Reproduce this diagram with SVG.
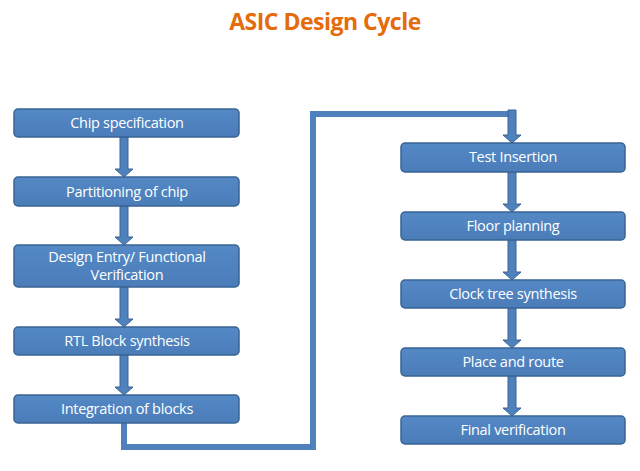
<svg xmlns="http://www.w3.org/2000/svg" width="640" height="471" viewBox="0 0 640 471">
<defs>
<linearGradient id="g" x1="0" y1="0" x2="0" y2="1">
<stop offset="0" stop-color="#5489C6"/>
<stop offset="1" stop-color="#4A7CB8"/>
</linearGradient>
<style>
.box{fill:url(#g);stroke:#3A6394;stroke-width:1.5}
.t{fill:#fff;font-family:"Open Sans","Liberation Sans",sans-serif;font-size:14.5px;text-anchor:middle;letter-spacing:-0.3px}
.ar{fill:#4F81BD;stroke:#3A6394;stroke-width:1}
.ln{fill:none;stroke:#4F81BD;stroke-width:6}
</style>
</defs>
<rect width="640" height="471" fill="#fff"/>
<text x="325" y="30" fill="#E46C0A" font-family="'Open Sans','Liberation Sans',sans-serif" font-weight="bold" font-size="23" text-anchor="middle" letter-spacing="-0.5">ASIC Design Cycle</text>
<g id="connectors">
<polygon class="ar" points="120,137 128,137 128,169 133,169 124,177 115,169 120,169"/>
<polygon class="ar" points="120,206 128,206 128,237 133,237 124,245 115,237 120,237"/>
<polygon class="ar" points="120,287 128,287 128,319 133,319 124,327 115,319 120,319"/>
<polygon class="ar" points="120,355 128,355 128,387 133,387 124,395 115,387 120,387"/>
<polyline class="ln" points="124,423 124,447 313,447 313,114 509,114"/>
<polygon class="ar" points="508,110 516,110 516,135 521,135 512,143 503,135 508,135"/>
<polygon class="ar" points="508,172 516,172 516,204 521,204 512,212 503,204 508,204"/>
<polygon class="ar" points="508,240 516,240 516,272 521,272 512,280 503,272 508,272"/>
<polygon class="ar" points="508,308 516,308 516,340 521,340 512,348 503,340 508,340"/>
<polygon class="ar" points="508,376 516,376 516,408 521,408 512,416 503,408 508,408"/>
</g>
<g id="n1"><rect class="box" x="14" y="109" width="225" height="28" rx="4"/><text class="t" x="127" y="128">Chip specification</text></g>
<g id="n2"><rect class="box" x="14" y="177" width="225" height="29" rx="4"/><text class="t" x="127" y="197">Partitioning of chip</text></g>
<g id="n3"><rect class="box" x="14" y="245" width="225" height="42" rx="4"/><text class="t" x="127" y="262">Design Entry/ Functional</text><text class="t" x="127" y="280">Verification</text></g>
<g id="n4"><rect class="box" x="14" y="327" width="225" height="28" rx="4"/><text class="t" x="127" y="346">RTL Block synthesis</text></g>
<g id="n5"><rect class="box" x="14" y="395" width="225" height="28" rx="4"/><text class="t" x="127" y="414">Integration of blocks</text></g>
<g id="n6"><rect class="box" x="401" y="143" width="224" height="29" rx="4"/><text class="t" x="513" y="162">Test Insertion</text></g>
<g id="n7"><rect class="box" x="401" y="212" width="224" height="28" rx="4"/><text class="t" x="513" y="231">Floor planning</text></g>
<g id="n8"><rect class="box" x="401" y="280" width="224" height="28" rx="4"/><text class="t" x="513" y="299">Clock tree synthesis</text></g>
<g id="n9"><rect class="box" x="401" y="348" width="224" height="28" rx="4"/><text class="t" x="513" y="367">Place and route</text></g>
<g id="n10"><rect class="box" x="401" y="416" width="224" height="28" rx="4"/><text class="t" x="513" y="435">Final verification</text></g>
</svg>
